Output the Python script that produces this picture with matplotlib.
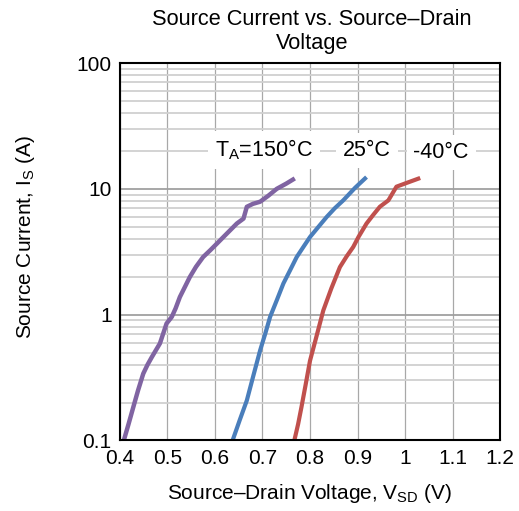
import numpy as np
import matplotlib.pyplot as plt
from matplotlib.ticker import FixedLocator, LogLocator, NullFormatter

# curve data (V_SD in V, I_S in A)
v_150 = [0.408, 0.418, 0.428, 0.438, 0.449, 0.458, 0.467, 0.484, 0.498, 0.509,
         0.517, 0.526, 0.547, 0.560, 0.575, 0.590, 0.604, 0.618, 0.632, 0.646,
         0.660, 0.667, 0.680, 0.695, 0.712, 0.730, 0.750, 0.768]
i_150 = [0.10, 0.135, 0.184, 0.25, 0.34, 0.40, 0.46, 0.59, 0.85, 0.96,
         1.12, 1.38, 1.99, 2.40, 2.87, 3.25, 3.67, 4.15, 4.69, 5.30,
         5.8, 7.2, 7.6, 7.9, 8.8, 10.0, 11.0, 12.1]

v_25 = [0.637, 0.652, 0.667, 0.681, 0.695, 0.706, 0.716, 0.730, 0.744, 0.758,
        0.772, 0.786, 0.800, 0.818, 0.835, 0.852, 0.870, 0.895, 0.919]
i_25 = [0.10, 0.145, 0.208, 0.33, 0.52, 0.71, 0.96, 1.30, 1.77, 2.25,
        2.87, 3.45, 4.14, 5.0, 5.97, 7.0, 8.1, 10.2, 12.4]

v_m40 = [0.767, 0.775, 0.782, 0.791, 0.800, 0.814, 0.828, 0.845, 0.863, 0.877,
         0.891, 0.902, 0.919, 0.933, 0.947, 0.965, 0.982, 1.005, 1.032]
i_m40 = [0.10, 0.135, 0.184, 0.28, 0.43, 0.68, 1.08, 1.62, 2.39, 2.90,
         3.45, 4.14, 5.3, 6.2, 7.2, 8.1, 10.4, 11.2, 12.2]

x_ticks = [0.4, 0.5, 0.6, 0.7, 0.8, 0.9, 1.0, 1.1, 1.2]
x_labels = ["0.4", "0.5", "0.6", "0.7", "0.8", "0.9", "1", "1.1", "1.2"]
y_ticks = [0.1, 1, 10, 100]
y_labels = ["0.1", "1", "10", "100"]

plt.rcParams.update({"font.family": ["Liberation Sans", "DejaVu Sans"],
                     "mathtext.fontset": "custom",
                     "mathtext.rm": "Liberation Sans"})

fig = plt.figure(figsize=(5.19, 5.11), dpi=100)
ax = fig.add_axes([0.2312, 0.138, 0.7322, 0.7387])

ax.set_yscale("log")
ax.set_xlim(0.4, 1.2)
ax.set_ylim(0.1, 100)

ax.xaxis.set_major_locator(FixedLocator(x_ticks))
ax.set_xticklabels(x_labels)
ax.yaxis.set_major_locator(FixedLocator(y_ticks))
ax.set_yticklabels(y_labels)
ax.yaxis.set_minor_locator(LogLocator(base=10, subs=np.arange(2, 10)))
ax.yaxis.set_minor_formatter(NullFormatter())
ax.tick_params(which="both", length=0, labelsize=15, pad=6)

ax.grid(True, axis="x", which="major", color="#a8a8a8", lw=0.9)
ax.grid(True, axis="y", which="major", color="#a0a0a0", lw=1.3)
ax.grid(True, axis="y", which="minor", color="#d0d0d0", lw=1.3)
ax.set_axisbelow(True)
for s in ax.spines.values():
    s.set_linewidth(1.5)
    s.set_color("black")

ax.plot(v_150, i_150, color="#8064a2", lw=3.2, solid_capstyle="butt")
ax.plot(v_25, i_25, color="#4a7ebb", lw=3.0, solid_capstyle="butt")
ax.plot(v_m40, i_m40, color="#c0504d", lw=3.0, solid_capstyle="butt")

box = dict(facecolor="white", edgecolor="none", pad=5)
ax.text(0.703, 20.3, "T$_\\mathregular{A}$=150°C", fontsize=15.5, ha="center",
        va="center", bbox=box, zorder=1.5)
ax.text(0.920, 20.3, "25°C", fontsize=15.5, ha="center", va="center",
        bbox=box, zorder=1.5)
ax.text(1.076, 19.5, "-40°C", fontsize=15.5, ha="center", va="center",
        bbox=box, zorder=1.5)

fig.text(0.601, 0.9384, "Source Current vs. Source–Drain\nVoltage",
         fontsize=15.7, ha="center", va="center", linespacing=1.24)
ax.set_xlabel("Source–Drain Voltage, V$_\\mathregular{SD}$ (V)", fontsize=15,
              labelpad=10)
ax.set_ylabel("Source Current, I$_\\mathregular{S}$ (A)", fontsize=15)
ax.yaxis.set_label_coords(-0.218, 0.539)

plt.savefig("out.png", dpi=100)
plt.close()
